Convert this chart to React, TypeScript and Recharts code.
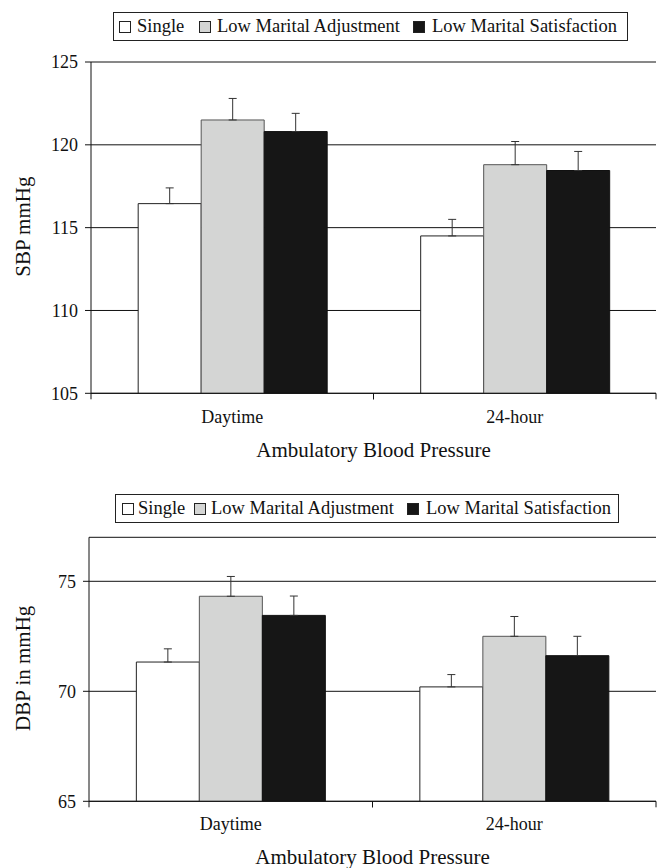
import React from "react";
import { BarChart, Bar, XAxis, YAxis, CartesianGrid, ErrorBar, Legend, Label } from "recharts";

const categories = ["Daytime", "24-hour"];
const seriesNames = ["Single", "Low Marital Adjustment", "Low Marital Satisfaction"];
const seriesKeys = ["single", "adjustment", "satisfaction"];
const seriesFills = ["#ffffff", "#d4d5d4", "#161616"];
const seriesStrokes = ["#222222", "#555555", "#111111"];

const sbpSingle = [116.45, 114.5];
const sbpAdjustment = [121.5, 118.8];
const sbpSatisfaction = [120.8, 118.45];
const sbpSingleErr = [0.95, 1.0];
const sbpAdjustmentErr = [1.3, 1.4];
const sbpSatisfactionErr = [1.1, 1.15];
const sbpTicks = [105, 110, 115, 120, 125];

const dbpSingle = [71.33, 70.2];
const dbpAdjustment = [74.32, 72.5];
const dbpSatisfaction = [73.45, 71.62];
const dbpSingleErr = [0.6, 0.56];
const dbpAdjustmentErr = [0.9, 0.9];
const dbpSatisfactionErr = [0.88, 0.88];
const dbpTicks = [65, 70, 75];

const xAxisTitle = "Ambulatory Blood Pressure";
const FONT = "'Liberation Serif', 'Times New Roman', serif";

function buildData(vals: number[][], errs: number[][]) {
  return categories.map((cat, i) => {
    const row: any = { cat };
    seriesKeys.forEach((k, s) => {
      row[k] = vals[s][i];
      row[k + "Err"] = [0, errs[s][i]];
    });
    return row;
  });
}

const sbpData = buildData(
  [sbpSingle, sbpAdjustment, sbpSatisfaction],
  [sbpSingleErr, sbpAdjustmentErr, sbpSatisfactionErr]
);
const dbpData = buildData(
  [dbpSingle, dbpAdjustment, dbpSatisfaction],
  [dbpSingleErr, dbpAdjustmentErr, dbpSatisfactionErr]
);

type LegendLayout = {
  boxLeft: number;
  boxWidth: number;
  squareLefts: number[];
  textLefts: number[];
  padBottom: number;
};

const LegendBox = ({ layout }: { layout: LegendLayout }) => (
  <div style={{ position: "relative", width: 659, height: 29 + layout.padBottom }}>
    <div
      style={{
        position: "absolute",
        left: layout.boxLeft,
        top: 0,
        width: layout.boxWidth,
        height: 29,
        border: "1.5px solid #222",
        boxSizing: "border-box",
        background: "#fff",
      }}
    >
      {seriesNames.map((n, i) => (
        <React.Fragment key={n}>
          <span
            style={{
              position: "absolute",
              left: layout.squareLefts[i],
              top: 7.5,
              width: 12,
              height: 12,
              background: seriesFills[i],
              border: "1px solid #222",
              boxSizing: "border-box",
            }}
          />
          <span
            style={{
              position: "absolute",
              left: layout.textLefts[i],
              top: 0,
              height: 26,
              lineHeight: "27px",
              fontSize: 18.5,
              fontFamily: FONT,
              color: "#111",
              whiteSpace: "nowrap",
            }}
          >
            {n}
          </span>
        </React.Fragment>
      ))}
    </div>
  </div>
);

const CategoryTick = (props: any) => {
  const { x, y, payload, labelDy, visibleTicksCount, width } = props;
  let half = payload && payload.offset ? payload.offset : 0;
  if (!half && width && visibleTicksCount) half = width / visibleTicksCount / 2;
  return (
    <g>
      <line x1={x - half} x2={x - half} y1={y} y2={y + 6} stroke="#111" strokeWidth={1} />
      <line x1={x + half} x2={x + half} y1={y} y2={y + 6} stroke="#111" strokeWidth={1} />
      <text x={x} y={y + labelDy} textAnchor="middle" fontSize={18} fontFamily={FONT} fill="#111">
        {payload.value}
      </text>
    </g>
  );
};

type PanelProps = {
  data: any[];
  domain: [number, number];
  ticks: number[];
  yTitle: string;
  top: number;
  height: number;
  marginTop: number;
  marginBottom: number;
  xAxisHeight: number;
  yAxisWidth: number;
  tickLabelDy: number;
  titleDy: number;
  legend: LegendLayout;
};

function Panel(p: PanelProps) {
  return (
    <div style={{ position: "absolute", left: 0, top: p.top, width: 659, height: p.height }}>
      <BarChart
        width={659}
        height={p.height}
        data={p.data}
        margin={{ top: p.marginTop, right: 3, bottom: p.marginBottom, left: 0 }}
        barCategoryGap="16.7%"
        barGap={0}
      >
        <Legend
          verticalAlign="top"
          align="left"
          wrapperStyle={{ left: 0, top: p.marginTop, width: 659 }}
          content={() => <LegendBox layout={p.legend} />}
        />
        <CartesianGrid vertical={false} stroke="#111" strokeWidth={1} />
        <XAxis
          dataKey="cat"
          height={p.xAxisHeight}
          axisLine={{ stroke: "#111", strokeWidth: 1 }}
          tickLine={false}
          tickSize={0}
          tickMargin={0}
          interval={0}
          tick={(tp: any) => <CategoryTick {...tp} labelDy={p.tickLabelDy} />}
        >
          <Label
            content={(lp: any) => {
              const vb = lp.viewBox || {};
              return (
                <text
                  x={vb.x + vb.width / 2}
                  y={vb.y + p.titleDy}
                  textAnchor="middle"
                  fontSize={21}
                  fontFamily={FONT}
                  fill="#111"
                >
                  {xAxisTitle}
                </text>
              );
            }}
          />
        </XAxis>
        <XAxis
          xAxisId="top"
          dataKey="cat"
          orientation="top"
          height={0}
          tick={false}
          tickLine={false}
          axisLine={{ stroke: "#111", strokeWidth: 1 }}
        />
        <YAxis
          domain={p.domain}
          ticks={p.ticks}
          interval={0}
          width={p.yAxisWidth}
          allowDataOverflow
          axisLine={{ stroke: "#111", strokeWidth: 1 }}
          tickLine={{ stroke: "#111", strokeWidth: 1 }}
          tickSize={6}
          tickMargin={7}
          tick={{ fontSize: 18, fill: "#111", fontFamily: FONT }}
        >
          <Label
            content={(lp: any) => {
              const vb = lp.viewBox || {};
              const cy = vb.y + vb.height / 2 - 1;
              return (
                <text
                  x={30}
                  y={cy}
                  transform={`rotate(-90, 30, ${cy})`}
                  textAnchor="middle"
                  fontSize={21}
                  fontFamily={FONT}
                  fill="#111"
                >
                  {p.yTitle}
                </text>
              );
            }}
          />
        </YAxis>
        <YAxis
          yAxisId="right"
          orientation="right"
          domain={p.domain}
          width={0}
          tick={false}
          tickLine={false}
          axisLine={{ stroke: "#111", strokeWidth: 1 }}
        />
        {seriesKeys.map((k, i) => (
          <Bar
            key={k}
            dataKey={k}
            name={seriesNames[i]}
            fill={seriesFills[i]}
            stroke={seriesStrokes[i]}
            strokeWidth={1}
            isAnimationActive={false}
          >
            <ErrorBar dataKey={k + "Err"} width={4} stroke="#333" strokeWidth={1} direction="y" />
          </Bar>
        ))}
      </BarChart>
    </div>
  );
}

export default function App() {
  return (
    <div style={{ position: "absolute", left: 0, top: 0, width: 659, height: 868, background: "#fff", fontFamily: FONT }}>
      <Panel
        data={sbpData}
        domain={[105, 125]}
        ticks={sbpTicks}
        yTitle="SBP mmHg"
        top={0}
        height={470}
        marginTop={12}
        marginBottom={6.7}
        xAxisHeight={70}
        yAxisWidth={91}
        tickLabelDy={30}
        titleDy={63.5}
        legend={{
          boxLeft: 113,
          boxWidth: 515,
          squareLefts: [5, 85, 299],
          textLefts: [23, 103, 318],
          padBottom: 21,
        }}
      />
      <Panel
        data={dbpData}
        domain={[65, 77]}
        ticks={dbpTicks}
        yTitle="DBP in mmHg"
        top={470}
        height={398}
        marginTop={24}
        marginBottom={2.7}
        xAxisHeight={64}
        yAxisWidth={89}
        tickLabelDy={28.5}
        titleDy={62.3}
        legend={{
          boxLeft: 115,
          boxWidth: 504,
          squareLefts: [6, 78, 291],
          textLefts: [22, 95, 310],
          padBottom: 14.3,
        }}
      />
    </div>
  );
}
